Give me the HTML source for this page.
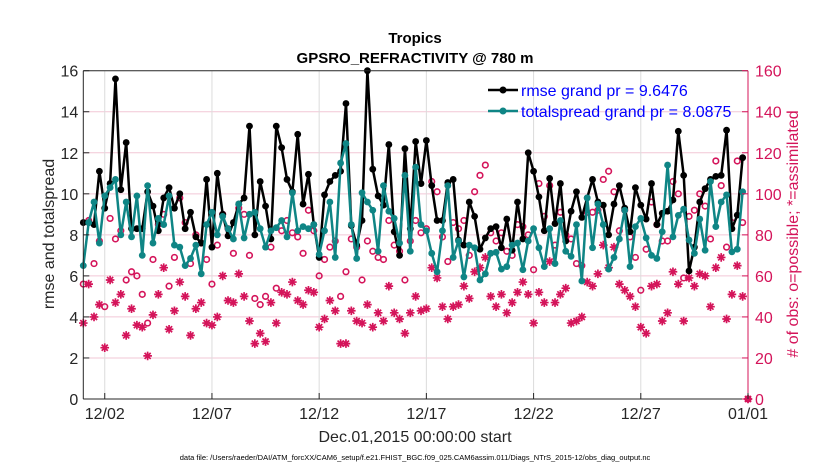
<!DOCTYPE html>
<html><head><meta charset="utf-8">
<style>
html,body{margin:0;padding:0;background:#fff;}
svg{display:block;font-family:"Liberation Sans",Arial,sans-serif;}
</style></head>
<body>
<svg id="chart" width="830" height="470" viewBox="0 0 830 470" xmlns="http://www.w3.org/2000/svg">
  <rect x="0" y="0" width="830" height="470" fill="#fff"/>
  <g id="grid"></g>
  <g id="series"></g>
  <g id="axes"></g>
  <text x="415" y="43" text-anchor="middle" font-size="15" font-weight="bold" fill="#000">Tropics</text>
  <text x="415" y="63" text-anchor="middle" font-size="15" font-weight="bold" fill="#000">GPSRO_REFRACTIVITY @ 780 m</text>
  <text x="415" y="442" text-anchor="middle" font-size="16" fill="#262626">Dec.01,2015 00:00:00 start</text>
  <text x="415" y="460" text-anchor="middle" font-size="7.5" fill="#000">data file: /Users/raeder/DAI/ATM_forcXX/CAM6_setup/f.e21.FHIST_BGC.f09_025.CAM6assim.011/Diags_NTrS_2015-12/obs_diag_output.nc</text>
  <text transform="translate(54,234) rotate(-90)" text-anchor="middle" font-size="16" fill="#262626">rmse and totalspread</text>
  <text transform="translate(798,234) rotate(-90)" text-anchor="middle" font-size="16" fill="#d4145a"># of obs: o=possible; *=assimilated</text>
  <g>
    <line x1="488" y1="90" x2="518" y2="90" stroke="#000" stroke-width="2.5"/>
    <circle cx="503" cy="90" r="3.5" fill="#000"/>
    <text x="521" y="96" font-size="16" fill="#0000ff">rmse grand pr = 9.6476</text>
    <line x1="488" y1="111" x2="518" y2="111" stroke="#0f8585" stroke-width="2.5"/>
    <circle cx="503" cy="111" r="3.5" fill="#0f8585"/>
    <text x="521" y="117" font-size="16" fill="#0000ff">totalspread grand pr = 8.0875</text>
  </g>
</svg>
<script>
const rmse = [8.6,8.6,8.5,11.1,9.3,10.5,15.6,10.2,12.5,8.3,
8.3,8.3,10.1,9.4,8.2,9.8,10.3,9.3,10.0,8.3,
9.1,7.9,7.6,10.7,7.4,11.0,9.0,7.95,8.6,9.5,
9.8,13.3,8.0,10.6,9.4,7.8,13.3,12.25,10.7,10.1,
12.9,9.5,10.95,8.5,6.9,9.95,10.6,10.9,11.1,14.4,
8.45,7.5,8.7,16.0,11.2,9.9,9.45,12.4,8.15,7.0,
12.2,8.3,12.55,10.5,12.6,10.4,8.7,8.7,10.55,10.7,
7.75,7.5,9.6,8.9,7.3,7.85,8.3,8.4,7.37,8.77,
7.25,9.6,7.8,12.0,11.1,9.85,8.2,10.75,8.55,10.5,
7.7,9.15,10.1,8.85,9.8,10.7,9.6,9.45,8.0,9.5,
10.4,9.3,8.15,10.3,9.45,8.77,10.5,8.5,9.05,9.15,
9.7,13.05,10.9,6.24,7.4,9.6,10.25,10.7,10.85,10.9,
13.1,8.3,8.96,11.76];
const spread = [6.5,8.6,9.6,7.6,9.9,10.3,10.7,8.0,9.6,7.9,
9.9,7.0,10.4,7.6,8.8,8.5,9.9,7.5,7.4,6.5,
6.85,7.5,6.1,8.5,9.1,8.0,8.9,8.3,7.8,9.5,
7.85,9.0,9.1,8.3,7.4,8.2,8.35,8.7,7.9,10.05,
8.2,8.4,8.3,8.5,7.05,8.2,9.6,6.9,11.5,12.45,
8.5,6.85,10.05,9.6,9.2,7.2,10.4,9.15,8.8,7.6,
10.9,7.2,11.3,8.5,8.2,7.1,6.2,8.2,10.4,6.9,
7.7,5.95,7.5,7.37,5.8,6.1,7.1,7.15,6.33,6.45,
7.5,7.6,6.3,7.7,8.3,7.37,6.45,8.3,6.6,8.7,
7.2,6.95,8.5,5.75,9.8,7.37,9.5,8.5,6.33,6.9,
7.8,9.2,6.45,8.4,8.8,7.85,7.0,6.85,8.15,11.4,
7.9,8.95,9.25,7.75,7.1,8.77,7.25,10.6,8.4,9.6,
9.95,7.17,7.3,10.1];
const obsPossible = [56,87,66,77,45,88,78,82,58,62,
60,51,37,68,85,90,55,69,98,86,
66,80,76,68,56,75,90,83,71,93,
90,70,49,46,50,74,54,82,87,81,
79,71,92,82,60,68,74,77,50,62,
78,74,58,77,72,69,68,87,75,72,
58,77,87,81,83,106,101,79,67,86,
83,87,70,101,109,114,81,77,81,72,
70,85,84,80,63,105,89,104,75,91,
80,78,66,65,91,91,92,107,111,101,
82,92,79,69,53,73,96,85,77,77,
106,100,59,89,92,100,94,78,116,104,
74,86,116,86,0];
const obsAssim = [37,56,40,46,25,58,47,51,31,44,
36,35,21,41,51,64,34,43,57,50,
31,44,47,37,36,40,60,48,47,61,
50,38,27,32,28,47,37,52,51,57,
48,46,53,52,35,39,48,43,27,27,
43,38,37,46,35,42,38,55,42,39,
32,42,50,43,44,64,59,45,39,45,
46,55,49,62,64,69,50,45,51,42,
47,52,57,51,37,52,47,67,47,51,
54,37,38,40,57,55,61,75,64,74,
56,53,50,45,35,32,55,56,38,42,
62,56,38,59,55,61,60,45,64,69,
39,51,65,50,0];
const xTickDays = [1,6,11,16,21,26,31];
const xTickLabels = ["12/02","12/07","12/12","12/17","12/22","12/27","01/01"];
const yTicksLeft = [0,2,4,6,8,10,12,14,16];
const yTicksRight = [0,20,40,60,80,100,120,140,160];

const NS="http://www.w3.org/2000/svg";
const L=83.3,R=748,T=70.7,B=399;
const xDay=d=>L+(d/31)*(R-L);
const xIdx=i=>xDay(i*0.25);
const yL=v=>B-(v/16)*(B-T);
const yR=v=>B-(v/160)*(B-T);
function mk(tag,attrs,parent){const e=document.createElementNS(NS,tag);for(const k in attrs)e.setAttribute(k,attrs[k]);parent.appendChild(e);return e;}
const grid=document.getElementById('grid'),axes=document.getElementById('axes'),ser=document.getElementById('series');

yTicksRight.forEach(v=>{if(v===0||v===160)return;
  const g=mk('line',{x1:L,x2:R,y1:yR(v),y2:yR(v),stroke:'#f2c7d6','stroke-width':1},grid);
  
  });
xTickDays.forEach(d=>{
  const g=mk('line',{x1:xDay(d),x2:xDay(d),y1:T,y2:B,stroke:'#dcdcdc','stroke-width':1},grid);
  
  });

let e;
e=mk('line',{x1:L,x2:R,y1:T,y2:T,stroke:'#262626','stroke-width':1},axes);


e=mk('line',{x1:L,x2:R,y1:B,y2:B,stroke:'#262626','stroke-width':1},axes);


e=mk('line',{x1:L,x2:L,y1:T,y2:B,stroke:'#262626','stroke-width':1},axes);


e=mk('line',{x1:R,x2:R,y1:T,y2:B,stroke:'#d4145a','stroke-width':1},axes);



yTicksLeft.forEach(v=>{
  e=mk('line',{x1:L,x2:L+6,y1:yL(v),y2:yL(v),stroke:'#262626'},axes);
  
  
  e=mk('text',{x:L-5,y:yL(v)+6,'text-anchor':'end','font-size':16,fill:'#262626'},axes);
  e.textContent=v;
  
  });
yTicksRight.forEach(v=>{
  e=mk('line',{x1:R-6,x2:R,y1:yR(v),y2:yR(v),stroke:'#d4145a'},axes);
  
  
  e=mk('text',{x:R+7,y:yR(v)+6,'text-anchor':'start','font-size':16,fill:'#d4145a'},axes);
  e.textContent=v;
  
  });
xTickDays.forEach((d,k)=>{
  e=mk('line',{x1:xDay(d),x2:xDay(d),y1:B,y2:B-6,stroke:'#262626'},axes);
  
  
  e=mk('text',{x:xDay(d),y:B+20,'text-anchor':'middle','font-size':16,fill:'#262626'},axes);
  e.textContent=xTickLabels[k];
  
  });

obsAssim.forEach((v,i)=>{
  const cx=xIdx(i),cy=yR(v),r=4.3;let d='';
  for(let a=0;a<4;a++){const t=a*Math.PI/4;d+=`M${(cx-r*Math.cos(t)).toFixed(2)},${(cy-r*Math.sin(t)).toFixed(2)}L${(cx+r*Math.cos(t)).toFixed(2)},${(cy+r*Math.sin(t)).toFixed(2)}`;}
  e=mk('path',{d:d,stroke:'#d4145a','stroke-width':1.7,fill:'none'},ser);
  
  });
obsPossible.forEach((v,i)=>{
  e=mk('circle',{cx:xIdx(i),cy:yR(v),r:2.8,fill:'none',stroke:'#d4145a','stroke-width':1.6},ser);
  
  });

function series(arr,color,name){
  const pts=arr.map((v,i)=>xIdx(i).toFixed(1)+','+yL(v).toFixed(1)).join(' ');
  e=mk('polyline',{points:pts,fill:'none',stroke:color,'stroke-width':2.5,'stroke-linejoin':'round'},ser);
  
  
  arr.forEach((v,i)=>{
    e=mk('circle',{cx:xIdx(i),cy:yL(v),r:3.4,fill:color},ser);
    
    });
}
series(rmse,'#000','rmse');
series(spread,'#0f8585','totalspread');
</script>
</body></html>
